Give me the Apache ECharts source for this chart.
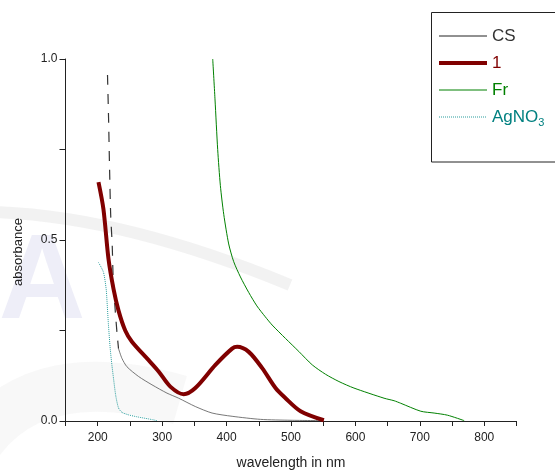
<!DOCTYPE html>
<html><head><meta charset="utf-8">
<script src="https://cdn.jsdelivr.net/npm/echarts@6/dist/echarts.min.js"></script>
<style>html,body{margin:0;padding:0;background:#fff}#c{width:555px;height:475px}</style>
</head><body><div id="c"></div>
<script>
// ---- data (wavelength nm, absorbance) ----
const csUpper = [[215.2,0.956],[216.9,0.832],[218.3,0.706],[220.1,0.571],[222.5,0.486],[224,0.393],[227,0.31],[230,0.242],[232.3,0.2]];
const csLower = [[232.3,0.2],[237.6,0.173],[245.3,0.150],[263.4,0.123],[284.2,0.100],[307.5,0.077],[325.6,0.063],[351.5,0.040],[377.5,0.022],[408.6,0.013],[452.6,0.0045],[500,0.002],[550.6,0.001]];
const one = [[201.2,0.660],[208.9,0.585],[216.7,0.448],[224.5,0.365],[232.3,0.305],[242.7,0.250],[253.1,0.219],[279,0.168],[294.5,0.137],[312.7,0.095],[333.4,0.074],[351.5,0.091],[382.7,0.155],[408.6,0.200],[416.4,0.205],[434.4,0.191],[455.3,0.146],[476,0.091],[491.5,0.063],[514.9,0.027],[551,0.002]];
const fr = [[378.5,1.0],[382.0,0.89],[386.2,0.75],[390.4,0.650],[395.6,0.571],[403.3,0.489],[411.1,0.440],[421.5,0.398],[434.4,0.355],[447,0.318],[460,0.288],[470.8,0.265],[491.5,0.228],[512.2,0.192],[533,0.155],[553.7,0.129],[574.4,0.109],[597.7,0.091],[644.4,0.063],[660,0.056],[670.3,0.049],[701.4,0.027],[722.1,0.022],[743,0.016],[768.8,0.001]];
const agno3 = [[201.2,0.438],[208.9,0.411],[213.1,0.365],[214.2,0.338],[216.5,0.27],[219.4,0.2],[222,0.155],[224.5,0.118],[228,0.07],[232.3,0.036],[237.6,0.024],[247.8,0.017],[260,0.012],[284.2,0.004],[292,0.001]];
const xTickLabels = [200,300,400,500,600,700,800];
const yTickLabels = [0,0.5,1.0];
const legendNames = ['CS','1','Fr','AgNO3'];

const FONT = '"Liberation Sans", Arial, sans-serif';
const chart = echarts.init(document.getElementById('c'), null, {renderer:'canvas'});
const option = {
  backgroundColor: '#fff',
  animation: false,
  grid: {left: 65.5, right: 38.5, top: 59, bottom: 52, containLabel: false},
  xAxis: {
    type: 'value', min: 150, max: 850, interval: 50,
    axisLine: {show: true, onZero: false, lineStyle: {color: '#222', width: 1}},
    axisTick: {show: true, length: 5, lineStyle: {color: '#222'}},
    splitLine: {show: false},
    axisLabel: {margin: 11, color: '#222', fontSize: 12, fontFamily: FONT,
      formatter: v => xTickLabels.indexOf(v) >= 0 ? String(v) : ''},
    name: 'wavelength in nm', nameLocation: 'middle', nameGap: 35,
    nameTextStyle: {color: '#222', fontSize: 14, fontFamily: FONT}
  },
  yAxis: {
    type: 'value', min: 0, max: 1, interval: 0.25,
    axisLine: {show: true, onZero: false, lineStyle: {color: '#222', width: 1}},
    axisTick: {show: true, length: 6, lineStyle: {color: '#222'}},
    splitLine: {show: false},
    axisLabel: {margin: 8, color: '#222', fontSize: 12, fontFamily: FONT,
      formatter: v => yTickLabels.some(t => Math.abs(t - v) < 1e-9) ? v.toFixed(1) : ''}
  },
  legend: {
    orient: 'vertical', left: 437, top: 27, padding: 0, itemWidth: 48, itemHeight: 14, itemGap: 9,
    itemStyle: {opacity: 0},
    textStyle: {fontSize: 17, lineHeight: 18, fontFamily: FONT},
    formatter: n => n === 'AgNO3' ? 'AgNO{sub|3}' : n,
    data: [
      {name: 'CS', textStyle: {color: '#333'}, lineStyle: {width: 1, color: '#222', type: 'solid'}},
      {name: '1', textStyle: {color: '#800000'}, lineStyle: {width: 4, color: '#800000'}},
      {name: 'Fr', textStyle: {color: '#008000'}, lineStyle: {width: 1, color: '#008000'}},
      {name: 'AgNO3', textStyle: {color: '#008080', rich: {sub: {color: '#008080', fontSize: 11, fontFamily: FONT, padding: [12, 0, 0, 0]}}}, lineStyle: {width: 1, color: '#2a9d9d', type: 'dotted'}}
    ]
  },
  graphic: [
    // faint watermark in background
    {type: 'bezierCurve', z: -10, silent: true, shape: {x1: -10, y1: 212, cpx1: 120, cpy1: 215, x2: 290, y2: 285}, style: {stroke: 'rgba(150,150,150,0.12)', lineWidth: 12, fill: null}},
    {type: 'bezierCurve', z: -10, silent: true, shape: {x1: -20, y1: 440, cpx1: 40, cpy1: 360, x2: 180, y2: 400}, style: {stroke: 'rgba(160,160,160,0.08)', lineWidth: 50, fill: null}},
    {type: 'text', z: -9, silent: true, style: {x: 42, y: 285, text: 'A', fontSize: 120, fontWeight: 'bold', fontFamily: FONT, fill: 'rgba(120,120,200,0.13)', align: 'center', verticalAlign: 'middle'}},
    // legend frame
    {type: 'rect', z: 10, silent: true, shape: {x: 431.5, y: 12.5, width: 140, height: 149.5}, style: {fill: null, stroke: '#222', lineWidth: 1}},
    // y axis title
    {type: 'text', z: 10, silent: true, x: 18, y: 252, rotation: Math.PI / 2, style: {text: 'absorbance', fontSize: 13, fontFamily: FONT, fill: '#222', align: 'center', verticalAlign: 'middle'}}
  ],
  series: [
    {name: 'CS', type: 'line', data: csLower, showSymbol: false, smooth: 0.25, color: '#222', lineStyle: {color: '#555', width: 0.8}, z: 3},
    {name: 'CS dashed', type: 'line', data: csUpper, showSymbol: false, smooth: 0.25, lineStyle: {color: '#333', width: 1.2, type: [10, 9]}, z: 3},
    {name: '1', type: 'line', data: one, showSymbol: false, smooth: 0.3, lineStyle: {color: '#800000', width: 4}, z: 4},
    {name: 'Fr', type: 'line', data: fr, showSymbol: false, smooth: 0.25, lineStyle: {color: '#008000', width: 1}, z: 3},
    {name: 'AgNO3', type: 'line', data: agno3, showSymbol: false, smooth: 0.25, color: '#2a9d9d', lineStyle: {color: '#2a9d9d', width: 1, type: 'dotted'}, z: 3}
  ]
};
chart.setOption(option);
</script></body></html>
